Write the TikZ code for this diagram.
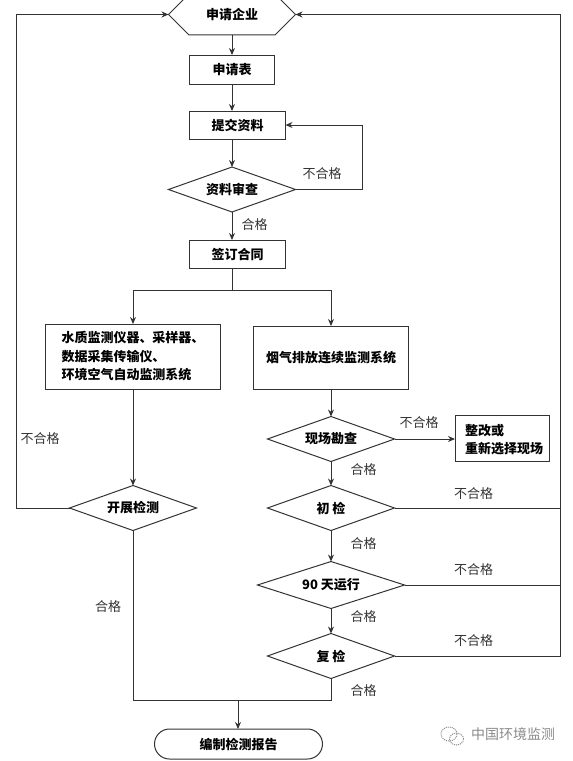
\documentclass[tikz,border=0pt]{standalone}
\usepackage{fontspec}
\setmainfont{Noto Sans CJK SC}
\usepackage{xcolor}
\usetikzlibrary{arrows.meta, shapes.geometric, shapes.misc}

\definecolor{linegray}{HTML}{333333}
\definecolor{labelgray}{HTML}{333333}
\definecolor{markgray}{HTML}{8A8A8A}

\begin{document}
\begin{tikzpicture}[x=1pt, y=-1pt, >={Stealth[length=7pt, width=6pt]}, line width=1pt,
    box/.style={draw=linegray, rectangle, inner sep=0pt, outer sep=0pt, font=\bfseries\fontsize{13}{18.5}\selectfont},
    check/.style={draw=linegray, diamond, aspect=2.8, inner sep=0pt, outer sep=0pt, minimum width=127pt, minimum height=45pt, font=\bfseries\fontsize{13}{16}\selectfont},
    verdict/.style={inner sep=0pt, text=labelgray, font=\fontsize{13}{16}\selectfont},
    link/.style={draw=linegray, ->},
    wire/.style={draw=linegray}]
    \useasboundingbox (0,0) rectangle (573,761);

    \node[draw=linegray, chamfered rectangle, chamfered rectangle xsep=26pt, chamfered rectangle ysep=14.2pt,
          inner sep=0pt, outer sep=0pt, minimum width=127pt, minimum height=28.4pt,
          font=\bfseries\fontsize{13}{16}\selectfont] (company) at (232,14.5) {申请企业};
    \node[box, minimum width=85pt, minimum height=29pt] (form) at (232,69.5) {申请表};
    \node[box, minimum width=96pt, minimum height=28pt] (submit) at (237.5,125) {提交资料};
    \node[check] (review) at (232,189.5) {资料审查};
    \node[box, minimum width=96pt, minimum height=28pt] (contract) at (237.5,254) {签订合同};
    \node[box, minimum width=175pt, minimum height=65pt] (water) at (133,356.5) {};
    \node[box, minimum width=155pt, minimum height=63pt] (flue) at (331,357.5) {烟气排放连续监测系统};
    \node[check] (survey) at (331,439) {现场勘查};
    \node[box, minimum width=94pt, minimum height=46pt] (rectify) at (502,438) {};
    \node[check] (first) at (331,508) {初 检};
    \node[check] (testing) at (133,508) {开展检测};
    \node[check, minimum width=147pt, minimum height=47pt] (run) at (331,585) {90 天运行};
    \node[check] (second) at (331,656) {复 检};
    \node[draw=linegray, rounded rectangle, inner sep=0pt, outer sep=0pt, minimum width=168pt, minimum height=30pt,
          font=\bfseries\fontsize{13}{16}\selectfont] (report) at (238.5,744) {编制检测报告};

    \node[anchor=west, inner sep=0pt, align=left, font=\bfseries\fontsize{13}{18.5}\selectfont] (watertext) at (61,356.5)
      {水质监测仪器、采样器、\\数据采集传输仪、\\环境空气自动监测系统};
    \node[anchor=west, inner sep=0pt, align=left, font=\bfseries\fontsize{13}{18.5}\selectfont] (rectifytext) at (464.5,439.5)
      {整改或\\重新选择现场};

    \coordinate (split) at (232,290);
    \coordinate (loopr) at (362.5,160);
    \coordinate (left) at (16,14.5);
    \coordinate (right) at (560.5,14.5);
    \coordinate (join) at (238,700);

    % main column
    \path[link] (company.south) -- (form.north);
    \path[link] (form.south) -- (form.south |- submit.north);
    \path[link] (form.south |- submit.south) -- (review.north);
    \path[link] (review.south) -- (review.south |- contract.north);
    \path[wire] (review.south |- contract.south) -- (split);
    \path[link] (split) -| (water.north);
    \path[link] (split) -| (flue.north);
    \path[link] (review.east) -| (loopr) |- (submit.east);

    % left branch
    \path[link] (water.south) -- (water.south |- testing.north);
    \path[link] (testing.west) -| (left) -- (company.west);
    \path[wire] (testing.south) |- (join);

    % right branch
    \path[link] (flue.south) -- (survey.north);
    \path[link] (survey.east) -- (survey.east -| rectify.west);
    \path[link] (survey.south) -- (first.north);
    \path[link] (first.south) -- (run.north);
    \path[link] (run.south) -- (second.north);
    \path[wire] (second.south) |- (join);
    \path[link] (join) -- (join |- report.north);
    \path[wire] (first.east) -- (first.east -| right);
    \path[wire] (run.east) -- (run.east -| right);
    \path[link] (second.east) -| (right) -- (company.east);

    \node[verdict] (no1) at (322,174) {不合格};
    \node[verdict] (ok1) at (254.5,225) {合格};
    \node[verdict] (no2) at (40,439) {不合格};
    \node[verdict] (no3) at (419,423) {不合格};
    \node[verdict] (ok2) at (363.5,470) {合格};
    \node[verdict] (no4) at (473.5,494) {不合格};
    \node[verdict] (ok3) at (363.5,544) {合格};
    \node[verdict] (no5) at (473.5,570) {不合格};
    \node[verdict] (ok4) at (363.5,617) {合格};
    \node[verdict] (no6) at (473.5,641) {不合格};
    \node[verdict] (ok5) at (363.5,691) {合格};
    \node[verdict] (ok6) at (108,607) {合格};

    % watermark
    \draw[markgray, densely dotted] (449,734) ellipse (8pt and 7pt);
    \draw[markgray, densely dotted] (456.5,739) ellipse (7pt and 6pt);
    \node[inner sep=0pt, text=markgray, font=\fontsize{14}{16}\selectfont] (mark) at (513,734) {中国环境监测};
\end{tikzpicture}
\end{document}
